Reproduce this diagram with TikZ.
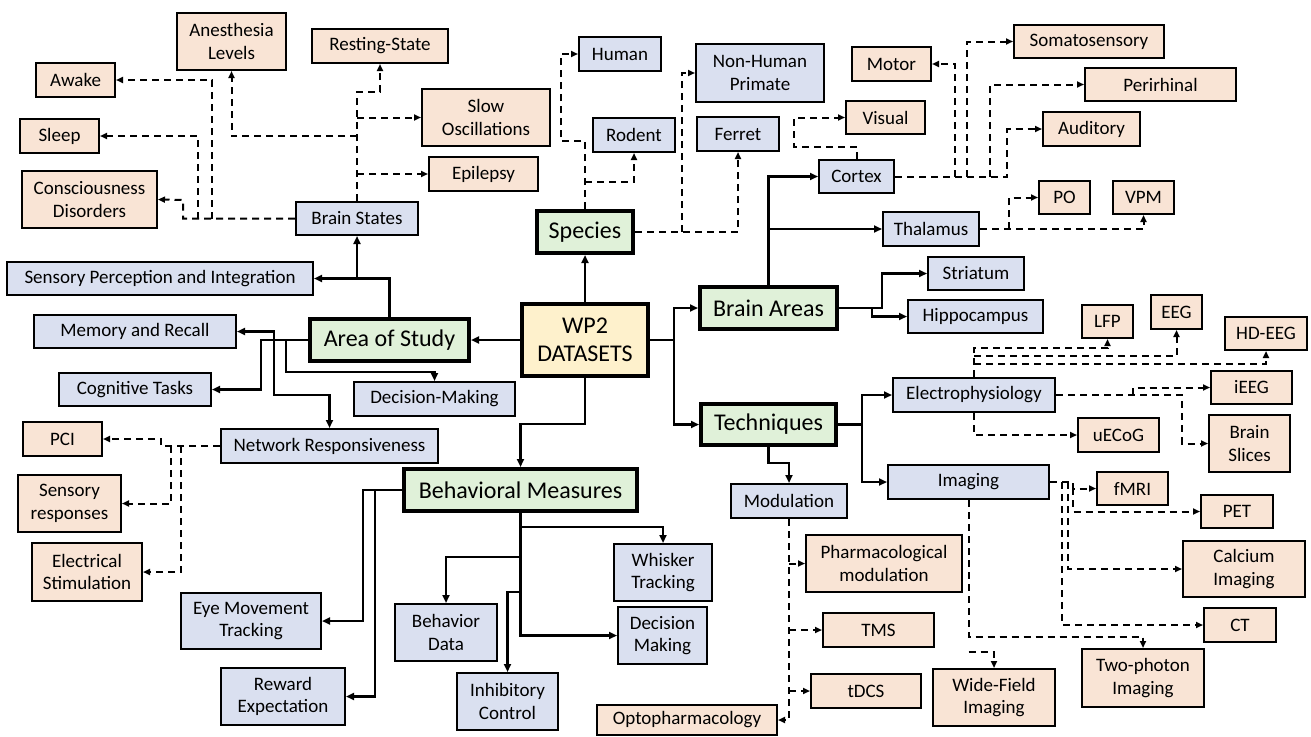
\documentclass[tikz,border=0pt]{standalone}
\usepackage{fontspec}
\setmainfont{Carlito}
\usetikzlibrary{arrows.meta}
\definecolor{cbl}{HTML}{DAE0F0}
\definecolor{cor}{HTML}{F9E4D5}
\definecolor{cgr}{HTML}{E0F1D9}
\definecolor{cye}{HTML}{FEF1CC}
\tikzset{
 basebox/.style={draw=black, align=center, inner sep=0pt, font=\fontsize{19}{22.5}\selectfont},
 bbox/.style={basebox, fill=cbl, line width=2pt},
 obox/.style={basebox, fill=cor, line width=2pt},
 gbox/.style={basebox, fill=cgr, line width=4pt, font=\fontsize{24}{28}\selectfont},
 ybox/.style={basebox, fill=cye, line width=4pt, font=\fontsize{24}{28}\selectfont},
 sol/.style={line width=2.5pt, -{Triangle[length=8pt,width=7pt]}},
 dsh/.style={line width=2pt, dash pattern=on 7pt off 5pt, -{Triangle[length=7pt,width=6pt]}},
}
\newcommand\bx[7]{%
 \pgfmathsetmacro\bxw{#5-#3}\pgfmathsetmacro\bxh{#6-#4}%
 \pgfmathsetmacro\bxx{(#3+#5)/2}\pgfmathsetmacro\bxy{(#4+#6)/2}%
 \node[#2,minimum width=\bxw pt,minimum height=\bxh pt] (#1) at (\bxx,\bxy) {#7};}
\begin{document}
\begin{tikzpicture}[x=1pt,y=-1pt]
\useasboundingbox[fill=white] (0,0) rectangle (1311,736);
% boxes
\bx{an}{obox}{177}{13}{286}{70}{Anesthesia\\Levels}
\bx{rs}{obox}{312}{29}{448}{63}{Resting-State}
\bx{aw}{obox}{36}{63}{115}{97}{Awake}
\bx{sl}{obox}{20}{119}{99}{153}{Sleep}
\bx{cd}{obox}{22}{171}{157}{228}{Consciousness\\Disorders}
\bx{bs}{bbox}{296}{202}{418}{235}{Brain States}
\bx{so}{obox}{422}{89}{550}{146}{Slow\\Oscillations}
\bx{ep}{obox}{429}{157}{538}{191}{Epilepsy}
\bx{hu}{bbox}{579}{37}{661}{71}{Human}
\bx{nhp}{bbox}{696}{44}{824}{102}{Non-Human\\Primate}
\bx{ro}{bbox}{593}{118}{675}{152}{Rodent}
\bx{fe}{bbox}{697}{117}{779}{151}{Ferret}
\bx{sp}{gbox}{537}{211}{633}{253}{Species}
\bx{mo}{obox}{852}{47}{931}{81}{Motor}
\bx{ss}{obox}{1014}{25}{1164}{58}{Somatosensory}
\bx{pe}{obox}{1085}{68}{1236}{101}{Perirhinal}
\bx{vi}{obox}{846}{101}{925}{134}{Visual}
\bx{au}{obox}{1043}{112}{1140}{146}{Auditory}
\bx{cx}{bbox}{819}{160}{894}{193}{Cortex}
\bx{po}{obox}{1039}{181}{1090}{214}{PO}
\bx{vpm}{obox}{1113}{181}{1174}{214}{VPM}
\bx{th}{bbox}{883}{212}{979}{246}{Thalamus}
\bx{ba}{gbox}{700}{287}{837}{329}{Brain Areas}
\bx{st}{bbox}{928}{257}{1024}{290}{Striatum}
\bx{hi}{bbox}{908}{300}{1043}{333}{Hippocampus}
\bx{te}{gbox}{701}{404}{836}{445}{Techniques}
\bx{wp}{ybox}{522}{304}{648}{376}{WP2\\DATASETS}
\bx{as}{gbox}{310}{319}{469}{361}{Area of Study}
\bx{spi}{bbox}{7}{262}{313}{295}{Sensory Perception and Integration}
\bx{mr}{bbox}{34}{315}{236}{348}{Memory and Recall}
\bx{ct}{bbox}{59}{373}{211}{406}{Cognitive Tasks}
\bx{dm}{bbox}{354}{382}{515}{416}{Decision-Making}
\bx{nr}{bbox}{221}{429}{438}{463}{Network Responsiveness}
\bx{pci}{obox}{23}{422}{102}{456}{PCI}
\bx{sr}{obox}{18}{475}{121}{532}{Sensory\\responses}
\bx{es}{obox}{32}{543}{142}{601}{Electrical\\Stimulation}
\bx{bm}{gbox}{404}{469}{637}{511}{Behavioral Measures}
\bx{em}{bbox}{181}{593}{321}{649}{Eye Movement\\Tracking}
\bx{re}{bbox}{221}{668}{345}{725}{Reward\\Expectation}
\bx{wt}{bbox}{614}{544}{712}{601}{Whisker\\Tracking}
\bx{bd}{bbox}{395}{604}{497}{661}{Behavior\\Data}
\bx{ic}{bbox}{457}{673}{558}{730}{Inhibitory\\Control}
\bx{dmk}{bbox}{618}{607}{707}{664}{Decision\\Making}
\bx{el}{bbox}{893}{378}{1055}{412}{Electrophysiology}
\bx{im}{bbox}{888}{465}{1049}{499}{Imaging}
\bx{md}{bbox}{731}{484}{847}{518}{Modulation}
\bx{op}{obox}{597}{705}{777}{735}{Optopharmacology}
\bx{pm}{obox}{806}{535}{962}{592}{Pharmacological\\modulation}
\bx{tms}{obox}{823}{613}{934}{647}{TMS}
\bx{td}{obox}{811}{674}{921}{708}{tDCS}
\bx{lfp}{obox}{1082}{305}{1133}{338}{LFP}
\bx{eeg}{obox}{1151}{295}{1202}{329}{EEG}
\bx{hd}{obox}{1225}{317}{1307}{350}{HD-EEG}
\bx{ie}{obox}{1211}{371}{1292}{404}{iEEG}
\bx{bsl}{obox}{1209}{415}{1290}{472}{Brain\\Slices}
\bx{ue}{obox}{1078}{418}{1159}{452}{uECoG}
\bx{fm}{obox}{1097}{472}{1168}{505}{fMRI}
\bx{pet}{obox}{1201}{495}{1273}{528}{PET}
\bx{ca}{obox}{1183}{541}{1305}{597}{Calcium\\Imaging}
\bx{ctb}{obox}{1204}{608}{1276}{642}{CT}
\bx{tp}{obox}{1082}{649}{1204}{707}{Two-photon\\Imaging}
\bx{wf}{obox}{933}{669}{1055}{726}{Wide-Field\\Imaging}
% Brain states
\draw[dsh] (bs.north) |- (380,92) -- (rs.south);
\draw[dsh] (so.west -| bs.north) -- (so.west);
\draw[dsh] (ep.west -| bs.north) -- (ep.west);
\draw[dsh] (bs.north |- 0,136) -| (an.south);
\draw[dsh] (bs.west) -| (183,200) -- (cd.east);
\draw[dsh] (198,218.5) |- (sl.east);
\draw[dsh] (212,218.5) |- (aw.east);
% Species
\draw[dsh] (sp.north) |- (561,141) |- (hu.west);
\draw[dsh] (sp.north |- 0,182) -| (ro.south);
\draw[dsh] (sp.east) -| (fe.south);
\draw[dsh] (682,232) |- (nhp.west);
% Cortex
\draw[dsh] (cx.north) |- (794,147) |- (vi.west);
\draw[dsh] (cx.east) -| (au.west -| 1007,0) -- (au.west);
\draw[dsh] (955,176.5) |- (mo.east);
\draw[dsh] (967,176.5) |- (ss.west);
\draw[dsh] (990,176.5) |- (pe.west);
% Thalamus
\draw[dsh] (th.east) -| (vpm.south);
\draw[dsh] (1009,229) |- (po.west);
% Brain areas
\draw[sol] (ba.north) |- (cx.west);
\draw[sol] (ba.north |- th.west) -- (th.west);
\draw[sol] (ba.east) -| (st.west -| 882,0) -- (st.west);
\draw[sol] (872,308) |- (hi.west);
% WP2
\draw[sol] (wp.north) -- (sp.south);
\draw[sol] (wp.west) -- (as.east);
\draw[sol] (wp.east) -- (674,340) |- (ba.west);
\draw[sol] (674,340) |- (te.west);
\draw[sol] (wp.south) -- ++(0,46) -| (bm.north);
% Area of study
\draw[sol] (as.north) |- (spi.east);
\draw[sol] (bs.south |- spi.east) -- (bs.south);
\draw[sol] (as.west) -- (261,340) |- (ct.east);
\draw[sol] (274,340) |- (mr.east);
\draw[sol] (274,340) |- (nr.north |- 0,395) -- (nr.north);
\draw[sol] (286,340) |- (dm.north |- 0,372) -- (dm.north);
% Network responsiveness
\draw[dsh] (nr.west) -| (pci.east -| 161,0) -- (pci.east);
\draw[dsh] (171,446) |- (sr.east);
\draw[dsh] (181,446) |- (es.east);
% Behavioral measures
\draw[sol] (bm.west) -- (363,490) |- (em.east);
\draw[sol] (375,490) |- (re.east);
\draw[sol] (bm.south) -- (bm.south |- 0,527) -| (wt.north);
\draw[sol] (bm.south |- 0,557) -| (bd.north);
\draw[sol] (bm.south |- 0,592) -| (ic.north);
\draw[sol] (bm.south) |- (dmk.west);
% Techniques
\draw[sol] (te.east) -- (862,424.5) |- (el.west);
\draw[sol] (862,424.5) |- (im.west);
\draw[sol] (te.south) -- (te.south |- 0,463) -| (md.north);
% Modulation
\draw[dsh] (md.south) |- (op.east);
\draw[dsh] (pm.west -| md.south) -- (pm.west);
\draw[dsh] (tms.west -| md.south) -- (tms.west);
\draw[dsh] (td.west -| md.south) -- (td.west);
% Electrophysiology
\draw[dsh] (el.north) |- (lfp.south |- 0,348) -- (lfp.south);
\draw[dsh] (el.north |- 0,356) -| (eeg.south);
\draw[dsh] (el.north |- 0,364) -| (hd.south);
\draw[dsh] (el.east) -| (bsl.west -| 1182,0) -- (bsl.west);
\draw[dsh] (1133,395) |- (ie.west);
\draw[dsh] (el.south) |- (ue.west);
% Imaging
\draw[dsh] (im.east) -| (ctb.west -| 1062,0) -- (ctb.west);
\draw[dsh] (1062,482) -- (1073,482) -- (1073,488.5) -- (fm.west);
\draw[dsh] (1073,488) |- (pet.west);
\draw[dsh] (1068,482) |- (ca.west);
\draw[dsh] (im.south) |- (tp.north |- 0,637) -- (tp.north);
\draw[dsh] (im.south |- 0,652) -| (wf.north);
\end{tikzpicture}
\end{document}
